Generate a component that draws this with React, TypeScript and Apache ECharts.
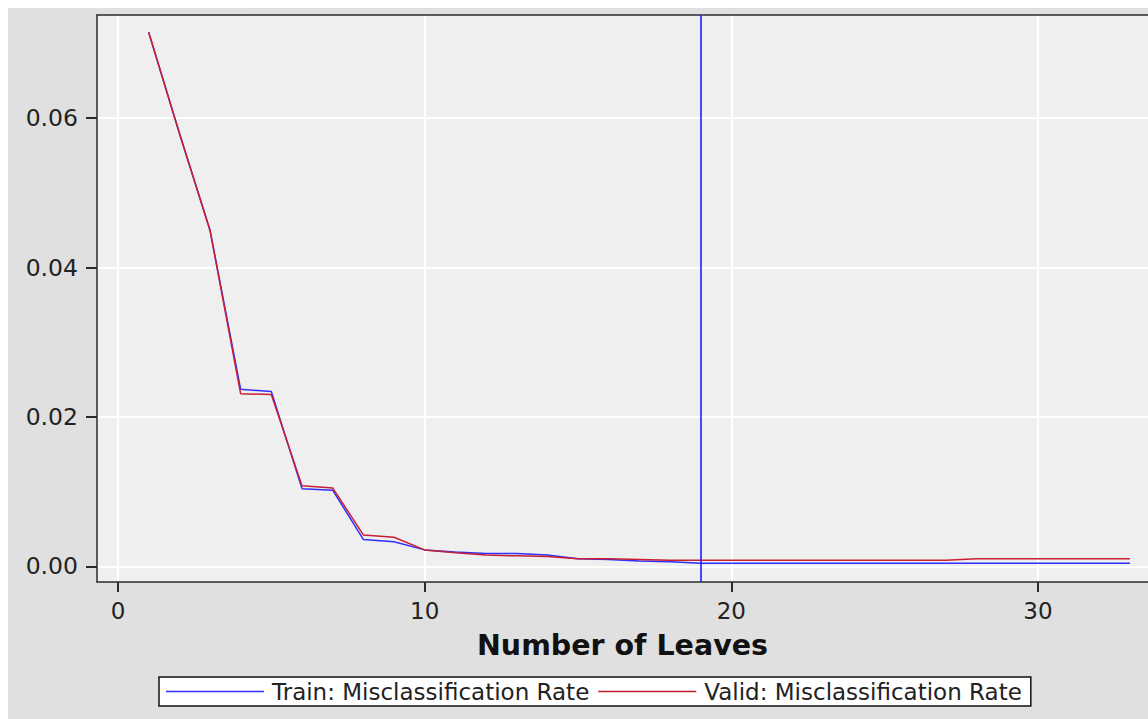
import React, { useEffect, useRef } from "react";
import * as echarts from "echarts";

const leaves = [1, 2, 3, 4, 5, 6, 7, 8, 9, 10, 11, 12, 13, 14, 15, 16, 17, 18, 19, 20, 21, 22, 23, 24, 25, 26, 27, 28, 29, 30, 31, 32, 33];
const trainRate = [0.0715, 0.058, 0.045, 0.0237, 0.0234, 0.0104, 0.0102, 0.0036, 0.0033, 0.0022, 0.0019, 0.0017, 0.0017, 0.0015, 0.001, 0.0009, 0.0007, 0.0006, 0.0004, 0.0004, 0.0004, 0.0004, 0.0004, 0.0004, 0.0004, 0.0004, 0.0004, 0.0004, 0.0004, 0.0004, 0.0004, 0.0004, 0.0004];
const validRate = [0.0715, 0.058, 0.045, 0.0231, 0.023, 0.0108, 0.0105, 0.0042, 0.0039, 0.0022, 0.0018, 0.0015, 0.0014, 0.0013, 0.001, 0.001, 0.0009, 0.0008, 0.0008, 0.0008, 0.0008, 0.0008, 0.0008, 0.0008, 0.0008, 0.0008, 0.0008, 0.001, 0.001, 0.001, 0.001, 0.001, 0.001];
const xTicks = [0, 10, 20, 30];
const yTicks = [0, 0.02, 0.04, 0.06];
const selectedLeaves = 19;
const seriesNames = ["Train: Misclassification Rate", "Valid: Misclassification Rate"];
const xTitle = "Number of Leaves";

const FONT = "DejaVu Sans";
const X_MIN = -0.685;
const X_MAX = 33.59;

export default function App() {
  const ref = useRef<HTMLDivElement>(null);

  useEffect(() => {
    if (!ref.current) return;
    const chart = echarts.init(ref.current, null, { renderer: "svg" });
    const isTick = (v: number, list: number[]) => list.some((t) => Math.abs(t - v) < 1e-9);
    chart.setOption({
      animation: false,
      backgroundColor: "#e0e0e0",
      textStyle: { fontFamily: FONT },
      grid: {
        left: 89,
        top: 7,
        right: 0,
        bottom: 137,
        show: true,
        backgroundColor: "#efefef",
        borderWidth: 0,
      },
      legend: {
        data: seriesNames,
        left: 151,
        top: 669,
        orient: "horizontal",
        icon: "rect",
        itemWidth: 98,
        itemHeight: 1.6,
        itemGap: 9,
        padding: [3, 9, 3, 7],
        backgroundColor: "#ffffff",
        borderColor: "#111111",
        borderWidth: 1.5,
        borderRadius: 0,
        textStyle: { fontFamily: FONT, fontSize: 23, color: "#222222", lineHeight: 22, padding: [0, 0, 0, 3] },
      },
      xAxis: [
        {
          type: "value",
          min: X_MIN,
          max: X_MAX,
          splitNumber: 3,
          name: xTitle,
          nameLocation: "middle",
          nameGap: 49,
          nameTextStyle: { fontFamily: FONT, fontSize: 28.5, fontWeight: "bold", color: "#111111" },
          axisLine: { show: true, onZero: false, lineStyle: { color: "#2b2b2b", width: 1.5 } },
          axisTick: { show: true, inside: false, length: 10, customValues: xTicks, lineStyle: { color: "#2b2b2b", width: 2 } },
          axisLabel: {
            customValues: xTicks,
            margin: 17,
            fontFamily: FONT,
            fontSize: 23,
            color: "#222222",
            formatter: (v: number) => (isTick(v, xTicks) ? String(v) : ""),
          },
          splitLine: {
            show: true,
            lineStyle: { color: "#ffffff", width: 2 },
          },
        },
        {
          type: "value",
          position: "top",
          min: X_MIN,
          max: X_MAX,
          splitNumber: 3,
          axisLine: { show: true, onZero: false, lineStyle: { color: "#2b2b2b", width: 1.5 } },
          axisTick: { show: false },
          axisLabel: { show: false },
          splitLine: { show: false },
        },
      ],
      yAxis: {
        type: "value",
        min: -0.0021,
        max: 0.07381,
        splitNumber: 4,
        axisLine: { show: true, onZero: false, lineStyle: { color: "#2b2b2b", width: 1.5 } },
        axisTick: { show: true, inside: false, length: 11, customValues: yTicks, lineStyle: { color: "#2b2b2b", width: 2 } },
        axisLabel: {
          customValues: yTicks,
          margin: 19,
          fontFamily: FONT,
          fontSize: 23.5,
          color: "#222222",
          formatter: (v: number) => (isTick(v, yTicks) ? v.toFixed(2) : ""),
        },
        splitLine: {
          show: true,
          lineStyle: { color: "#ffffff", width: 2 },
        },
      },
      series: [
        {
          name: seriesNames[0],
          type: "line",
          xAxisIndex: 0,
          data: leaves.map((x, i) => [x, trainRate[i]]),
          symbol: "none",
          showSymbol: false,
          color: "#2f2fff",
          lineStyle: { color: "#2f2fff", width: 1.5 },
          markLine: {
            silent: true,
            symbol: ["none", "none"],
            label: { show: false },
            lineStyle: { color: "#1f1fff", width: 1.6, type: "solid" },
            data: [{ xAxis: selectedLeaves }],
          },
          z: 2,
        },
        {
          name: seriesNames[1],
          type: "line",
          xAxisIndex: 0,
          data: leaves.map((x, i) => [x, validRate[i]]),
          symbol: "none",
          showSymbol: false,
          color: "#c81e32",
          lineStyle: { color: "#c81e32", width: 1.5 },
          z: 3,
        },
      ],
    });
    return () => chart.dispose();
  }, []);

  return (
    <div style={{ position: "fixed", left: 0, top: 0, width: 1148, height: 719, background: "#ffffff", overflow: "hidden" }}>
      <div ref={ref} style={{ position: "absolute", left: 8, top: 8, width: 1140, height: 711 }} />
    </div>
  );
}
